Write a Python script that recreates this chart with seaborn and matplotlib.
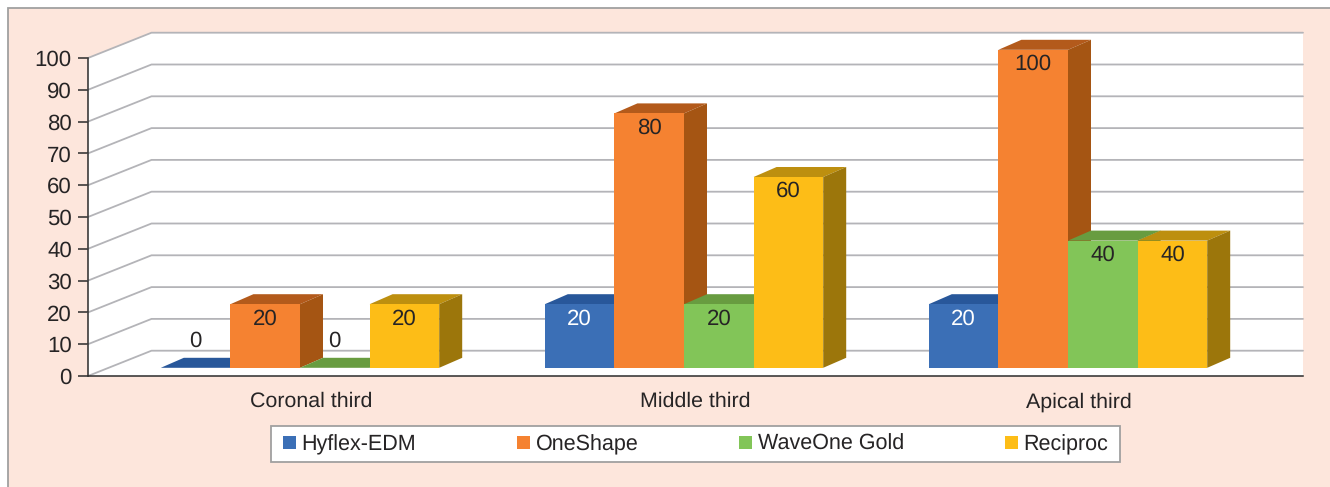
import matplotlib
matplotlib.use("Agg")
import matplotlib.pyplot as plt
import pandas as pd
import seaborn as sns
from matplotlib.patches import Polygon, Rectangle
from matplotlib.lines import Line2D
from matplotlib.transforms import Affine2D, IdentityTransform

# Chart values
regions = ["Coronal third", "Middle third", "Apical third"]
hyflex_edm = [0, 20, 20]
oneshape = [20, 80, 100]
waveone_gold = [0, 20, 40]
reciproc = [20, 60, 40]
systems = ["Hyflex-EDM", "OneShape", "WaveOne Gold", "Reciproc"]
y_ticks = list(range(0, 101, 10))

# Colours: front, top and side faces of each system's bars
front_colors = ["#3b6fb6", "#f58231", "#82c558", "#fdbd17"]
top_colors = ["#28579a", "#b35a1b", "#689c40", "#bd8f0f"]
side_colors = ["#234e8a", "#a55513", "#5a8a36", "#9c760b"]
panel_color = "#fde6dc"
border_color = "#a0a0a0"
grid_color = "#b4b4b8"
ink = "#262425"

W, H = 1330, 487
sns.set_theme(style="white")
plt.rcParams["font.family"] = ["Liberation Sans", "DejaVu Sans"]
plt.rcParams["text.color"] = ink
plt.rcParams["text.hinting"] = "no_hinting"

fig = plt.figure(figsize=(W / 100, H / 100), dpi=100, facecolor="white")

# Tinted panel behind the plot, running off the right and bottom edges
fig.patches.append(Rectangle((7.5 / W, -0.02), 1.05, 1 - 7.5 / H + 0.02,
                             transform=fig.transFigure, facecolor=panel_color,
                             edgecolor=border_color, linewidth=1.3, figure=fig,
                             zorder=-2))

# White strip that carries the legend
fig.patches.append(Rectangle((270.5 / W, (H - 462) / H), 849 / W, 36 / H,
                             transform=fig.transFigure, facecolor="white",
                             edgecolor=border_color, linewidth=1.3, figure=fig,
                             zorder=-1))

ax = fig.add_axes([88 / W, (H - 376) / H, (1303 - 88) / W, (376 - 58) / H])
ax.patch.set_alpha(0)

table = pd.DataFrame({
    "region": regions * 4,
    "system": [s for s in systems for _ in regions],
    "value": hyflex_edm + oneshape + waveone_gold + reciproc,
})
sns.barplot(data=table, x="region", y="value", hue="system", hue_order=systems,
            order=regions, palette=front_colors, saturation=1, width=0.725,
            gap=0, linewidth=0, ax=ax, legend=False)

# One category spans 384 px on the front plane
ax.set_xlim(-0.5, -0.5 + (1303 - 88) / 384)
ax.set_ylim(0, 100)
ax.set_yticks(y_ticks)
ax.set_xlabel("")
ax.set_ylabel("")

# Pseudo-3D depth vectors in display pixels
wall_dx, wall_dy = 63.5, 25.3
bar_shift = Affine2D().translate(20, 8.2)
bar_dx, bar_dy = 23, 10
to_px = ax.transData.transform
identity = IdentityTransform()

# White back wall and floor
x_left, x_right = ax.get_xlim()
left_bottom = to_px((x_left, 0))
left_top = to_px((x_left, 100))
right_end = ax.transAxes.transform((1, 0))[0]
wall_top = left_top[1] + wall_dy
ax.add_patch(Polygon([left_bottom, left_top,
                      (left_top[0] + wall_dx, wall_top),
                      (right_end, wall_top), (right_end, left_bottom[1])],
                     closed=True, transform=identity, facecolor="white",
                     edgecolor="none", zorder=0.5, clip_on=False))

# Gridlines: a diagonal on the side wall, then a run along the back wall
for tick in y_ticks:
    px, py = to_px((x_left, tick))
    ax.add_line(Line2D([px, px + wall_dx, right_end],
                       [py, py + wall_dy, py + wall_dy],
                       transform=identity, color=grid_color, linewidth=1.3,
                       zorder=0.8, clip_on=False))

# Bars are shifted into the scene; top and side faces come from each bar's geometry
for i, container in enumerate(ax.containers):
    base_z = 2 + i
    for bar in container:
        bar.set_transform(ax.transData + bar_shift)
        bar.set_zorder(base_z + 0.2)
        bar.set_clip_on(False)
        x0, y0 = bar_shift.transform(to_px((bar.get_x(), bar.get_y())))
        x1, y1 = bar_shift.transform(
            to_px((bar.get_x() + bar.get_width(), bar.get_height())))
        ax.add_patch(Polygon([(x0, y1), (x1, y1), (x1 + bar_dx, y1 + bar_dy),
                              (x0 + bar_dx, y1 + bar_dy)], closed=True,
                             transform=identity, facecolor=top_colors[i],
                             edgecolor="none", zorder=base_z, clip_on=False))
        if y1 > y0:
            ax.add_patch(Polygon([(x1, y0), (x1, y1),
                                  (x1 + bar_dx, y1 + bar_dy),
                                  (x1 + bar_dx, y0 + bar_dy)], closed=True,
                                 transform=identity, facecolor=side_colors[i],
                                 edgecolor="none", zorder=base_z, clip_on=False))

    # Value labels: inside the bar, or floating above an empty one
    for bar in container:
        height = bar.get_height()
        offset = -10.5 if height > 0 else 19.5
        ax.annotate(f"{height:.0f}",
                    (bar.get_x() + bar.get_width() / 2, height),
                    xycoords=ax.transData + bar_shift,
                    xytext=(0, offset), textcoords="offset points",
                    ha="center", va="center", fontsize=16,
                    color="white" if i == 0 and height > 0 else ink,
                    zorder=10, annotation_clip=False)

# Axes styling
for side in ("top", "right"):
    ax.spines[side].set_visible(False)
for side in ("left", "bottom"):
    ax.spines[side].set_visible(True)
    ax.spines[side].set_color("#2b2b2b")
    ax.spines[side].set_linewidth(1.1)
ax.tick_params(axis="y", left=True, length=7.2, width=1.1, color="#2b2b2b",
               labelsize=16, labelcolor=ink, pad=4.5)
ax.tick_params(axis="x", bottom=False, labelsize=15.4, labelcolor=ink, pad=5.5)
label_shift = Affine2D().translate(31, 0)
for label in ax.get_xticklabels():
    label.set_transform(label.get_transform() + label_shift)

# Legend entries on the white strip
handles = [Rectangle((0, 0), 1, 1, facecolor=c, edgecolor="none") for c in front_colors]
legend = ax.legend(handles, systems, ncol=4, loc="center",
                   bbox_to_anchor=(695.5 / W, (H - 444.3) / H),
                   bbox_transform=fig.transFigure, fontsize=15.5,
                   frameon=False, handlelength=0.6, handleheight=0.6,
                   handletextpad=0.27, columnspacing=4.68, borderpad=0,
                   borderaxespad=0)

fig.savefig("out.png", dpi=100, facecolor="white")
